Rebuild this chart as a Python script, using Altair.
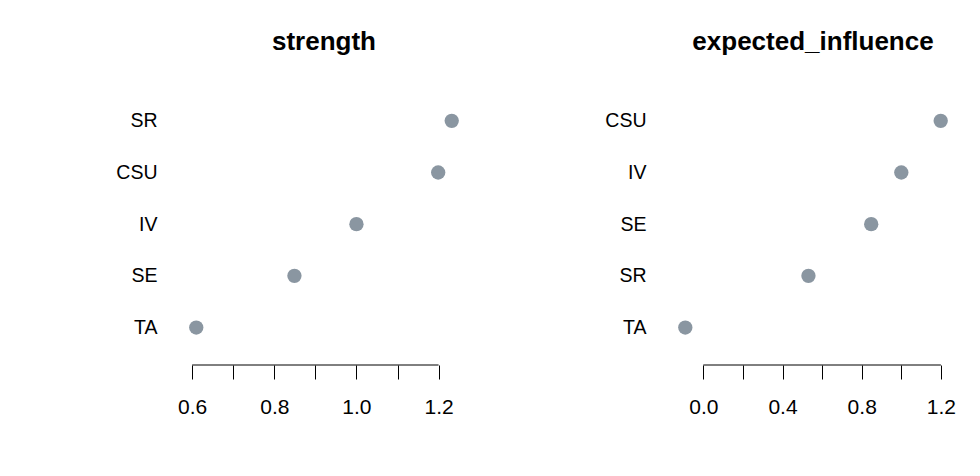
import altair as alt
import pandas as pd

# ---- data ----
strength_nodes = ["TA", "SE", "IV", "CSU", "SR"]
strength_vals = [0.610, 0.849, 1.000, 1.199, 1.232]

ei_nodes = ["TA", "SR", "SE", "IV", "CSU"]
ei_vals = [-0.091, 0.531, 0.848, 1.000, 1.199]

strength_ticks = [0.6, 0.7, 0.8, 0.9, 1.0, 1.1, 1.2]
strength_labels = [0.6, 0.8, 1.0, 1.2]
ei_ticks = [0.0, 0.2, 0.4, 0.6, 0.8, 1.0, 1.2]
ei_labels = [0.0, 0.4, 0.8, 1.2]

W = 276
H = 270
DOT = "#8A96A1"
FONT = "Liberation Sans"


def panel(title, nodes, vals, ticks, labels, xdom):
    df = pd.DataFrame({"node": nodes, "value": vals,
                       "rank": list(range(1, len(nodes) + 1))})
    names = "['', " + ", ".join(f"'{n}'" for n in nodes) + "]"
    lab = "[" + ", ".join(repr(v) for v in labels) + "]"
    xaxis = alt.Axis(values=ticks,
                     labelExpr=f"indexof({lab}, datum.value) >= 0 ? format(datum.value, '.1f') : ''",
                     domain=False, grid=False, tickSize=14, tickColor="black",
                     tickWidth=1, labelFontSize=21, labelFont=FONT,
                     labelColor="black", labelPadding=17, title=None,
                     labelFlush=False, labelOverlap=False)
    xscale = alt.Scale(domain=xdom, nice=False, zero=False)
    yaxis = alt.Axis(values=list(range(1, len(nodes) + 1)),
                     labelExpr=f"{names}[datum.value]",
                     domain=False, ticks=False, tickSize=0, grid=False,
                     labelPadding=29, labelFontSize=19.5, labelFont=FONT,
                     labelColor="black", title=None, labelFlush=False,
                     labelOverlap=False)
    yscale = alt.Scale(domain=[0.275, 5.5], nice=False, zero=False)

    pts = alt.Chart(df).mark_circle(size=205, color=DOT, opacity=1).encode(
        x=alt.X("value:Q", scale=xscale, axis=xaxis),
        y=alt.Y("rank:Q", scale=yscale, axis=yaxis),
    )
    base = pd.DataFrame({"lo": [ticks[0]], "hi": [ticks[-1]]})
    rule = alt.Chart(base).mark_rule(color="black", strokeWidth=1).encode(
        x=alt.X("lo:Q", scale=xscale, axis=xaxis),
        x2="hi:Q",
        y=alt.value(H),
    )
    return alt.layer(rule, pts).properties(
        width=W, height=H,
        title=alt.TitleParams(title, fontSize=26, font=FONT, fontWeight="bold",
                              color="black", anchor="middle", frame="group",
                              offset=19, baseline="alphabetic"),
    )


left = panel("strength", strength_nodes, strength_vals, strength_ticks,
             strength_labels, [0.585, 1.257])
right = panel("expected_influence", ei_nodes, ei_vals, ei_ticks,
              ei_labels, [-0.143, 1.251])

chart = alt.hconcat(left, right, spacing=142).properties(
    padding={"left": 107, "top": 21, "right": 5, "bottom": 5},
    background="white",
).configure_view(stroke=None)

chart.save("out.html", embed_options={"renderer": "svg", "actions": False})
